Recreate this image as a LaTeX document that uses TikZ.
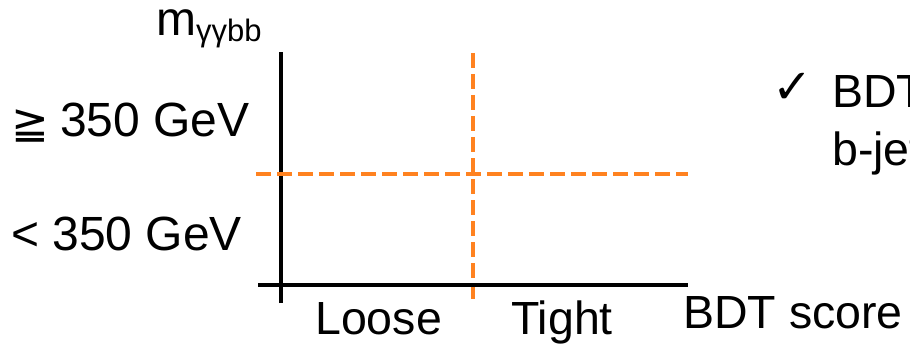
\documentclass[tikz,border=0pt]{standalone}
\usepackage{fontspec}
\setmainfont{Liberation Sans}
\newfontfamily\symfont{DejaVu Sans}
\definecolor{cutorange}{RGB}{255,130,32}
\begin{document}
\begin{tikzpicture}[x=1pt,y=-1pt,
  axis/.style={line width=4pt},
  cutline/.style={cutorange, line width=4pt, dash pattern=on 15pt off 6pt},
  txt/.style={inner sep=0pt, anchor=base west},
  big/.style={txt, font=\fontsize{48}{56}\selectfont},
  mid/.style={txt, font=\fontsize{46.5}{54}\selectfont},
]
\useasboundingbox (0,0) rectangle (910,350);
\clip (0,0) rectangle (910,350);

% axis end points
\coordinate (ybot) at (281,303);
\coordinate (ytop) at (281,52);
\coordinate (xlft) at (258,285);
\coordinate (xrgt) at (688,285);
% cut lines
\coordinate (vtop) at (473,53);
\coordinate (vbot) at (473,303);
\coordinate (hlft) at (256,174);
\coordinate (hrgt) at (688,174);

\draw[cutline] (vtop) -- (vbot);
\draw[axis] (ybot) -- (ytop);
\draw[axis] (xlft) -- (xrgt);
\draw[cutline] (hlft) -- (hrgt);

% axis titles
\node[big, text height=24pt] (mass) at (156,36) {m\raisebox{-6pt}{\fontsize{31}{34}\selectfont γγbb}};
\node[mid] (score) at (683,328) {BDT score};

% mass categories
\node[txt, font=\symfont\fontsize{45}{52}\selectfont] (geq) at (11,139) {≧};
\node[big] (high) at (60,137) {350 GeV};
\node[big] (low) at (11,250) {< 350 GeV};

% BDT categories
\node[mid] (loose) at (315,334) {Loose};
\node[mid] (tight) at (511,334) {Tight};

% side note
\node[txt, font=\symfont\fontsize{48}{52}\selectfont] (tick) at (772,104) {✓};
\node[mid] (note1) at (832,108) {BDT};
\node[mid] (note2) at (832,165) {b-jet};
\end{tikzpicture}
\end{document}
